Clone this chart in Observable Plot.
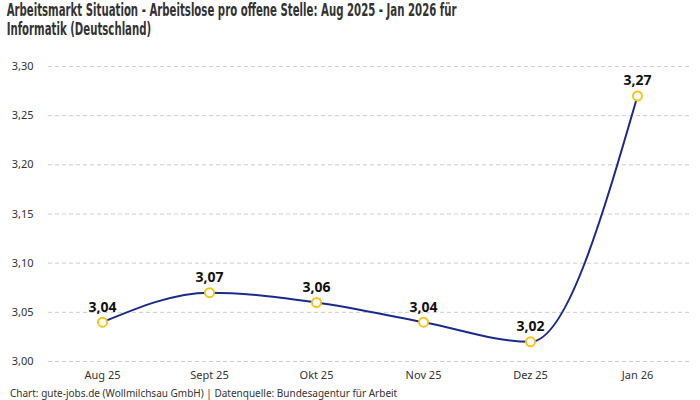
<!DOCTYPE html>
<html><head><meta charset="utf-8">
<script src="https://cdn.jsdelivr.net/npm/d3@7"></script>
<script src="https://cdn.jsdelivr.net/npm/@observablehq/plot@0.6"></script>
<style>
body{margin:0;background:#fff;width:700px;height:400px;overflow:hidden;font-family:"Noto Sans",sans-serif;}
#title{font-family:"DejaVu Sans Condensed",sans-serif;font-weight:bold;font-size:17px;line-height:19px;color:#333;padding:1px 0 0 10px;height:43px;white-space:nowrap;transform:scaleX(0.665);transform-origin:0 0;width:1050px;}
#caption{font-size:10px;color:#333;padding-left:10px;margin-top:2px;}
</style></head><body>
<div id="title">Arbeitsmarkt Situation - Arbeitslose pro offene Stelle: Aug 2025 - Jan 2026 für<br>Informatik (Deutschland)</div>
<div id="chart"></div>
<div id="caption">Chart: gute-jobs.de (Wollmilchsau GmbH) | Datenquelle: Bundesagentur für Arbeit</div>
<script>
const months = ["Aug 25","Sept 25","Okt 25","Nov 25","Dez 25","Jan 26"];
const values = [3.04, 3.07, 3.06, 3.04, 3.02, 3.27];
const yTicks = [3.00, 3.05, 3.10, 3.15, 3.20, 3.25, 3.30];

const de = d3.formatLocale({decimal:",", thousands:".", grouping:[3], currency:["","€"]});
const f2 = de.format(".2f");
const data = months.map((m,i)=>({month:m, value:values[i]}));

const chart = Plot.plot({
  width:700, height:340,
  marginTop:22, marginBottom:23, marginLeft:48, marginRight:10,
  style:{fontFamily:"Noto Sans, sans-serif", fontSize:"11px", color:"#333", background:"#fff"},
  x:{type:"point", domain:months, padding:0.5, label:null},
  y:{domain:[3.0,3.3], label:null},
  marks:[
    Plot.gridY(yTicks,{stroke:"#ccc", strokeOpacity:1, strokeDasharray:"4,3"}),
    Plot.axisY(yTicks,{tickSize:0, tickPadding:15, tickFormat:f2, fill:"#333"}),
    Plot.axisX({tickSize:0, tickPadding:10, fill:"#333"}),
    Plot.line(data,{x:"month", y:"value", curve:"monotone-x", stroke:"#1a2a8c", strokeWidth:2}),
    Plot.dot(data,{x:"month", y:"value", r:4.5, fill:"#fff", stroke:"#f5c518", strokeWidth:2}),
    Plot.text(data,{x:"month", y:"value", text:d=>f2(d.value), dy:-15, fontSize:14, fontWeight:"bold", fill:"#111"})
  ]
});
document.getElementById("chart").appendChild(chart);
</script>
</body></html>
